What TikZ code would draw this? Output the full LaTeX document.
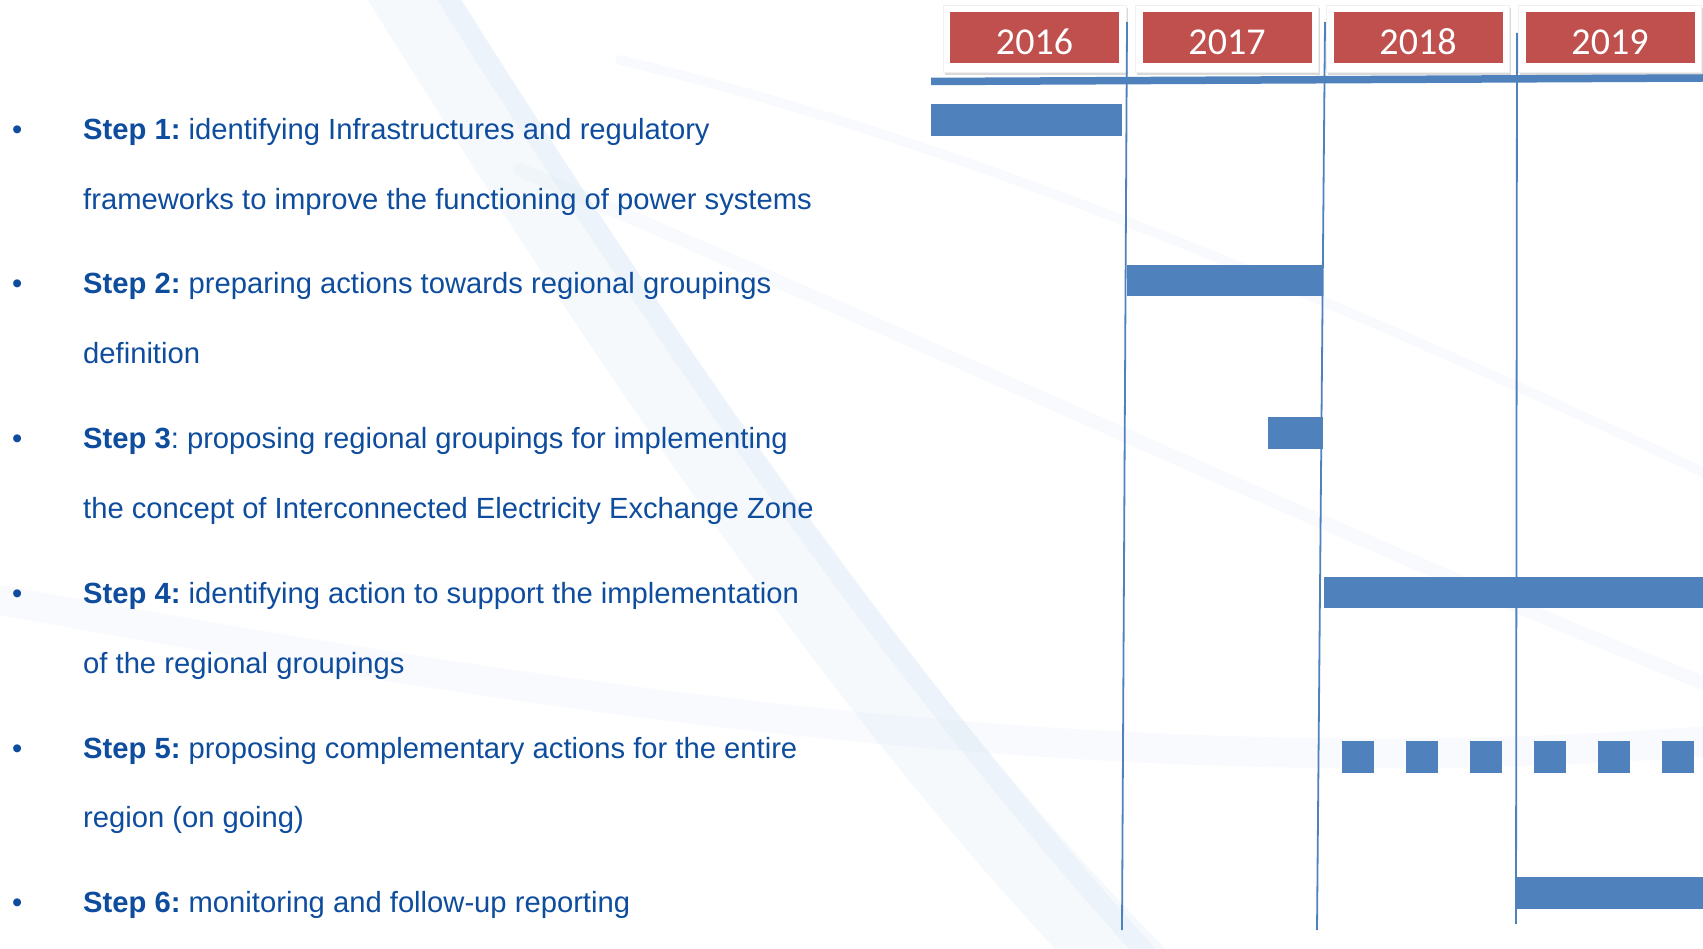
\documentclass[tikz,border=0pt]{standalone}
\usepackage{fontspec}
\setmainfont{Liberation Sans}
\newfontfamily\yearfont{Carlito}
\usetikzlibrary{shadows}
\definecolor{txtblue}{RGB}{14,76,157}
\definecolor{barblue}{RGB}{79,129,189}
\definecolor{yearred}{RGB}{192,80,77}
\definecolor{swooshblue}{RGB}{205,222,240}
\begin{document}
\frenchspacing
\begin{tikzpicture}[x=1pt,y=-1pt,
 yearbox/.style={fill=yearred, minimum width=169pt, minimum height=51pt, inner sep=0pt, text height=33pt, text depth=0pt, text=white, font=\yearfont\fontsize{38}{38}\selectfont},
 framebox/.style={fill=white, draw=black!6, line width=0.5pt, minimum width=183pt, minimum height=67pt, inner sep=0pt, drop shadow={shadow xshift=1.5pt, shadow yshift=-3.5pt, opacity=0.3}},
 bar/.style={fill=barblue, inner sep=0pt, draw=none, anchor=north west},
 vline/.style={draw=barblue, line width=1.8pt},
 steptext/.style={text=txtblue, anchor=base west, inner sep=0pt, font=\fontsize{29.2}{34}\selectfont},
 swoosh/.style={draw=swooshblue, line cap=round},
]
\useasboundingbox (0,0) rectangle (1703,949);
% faint background swooshes
\draw[swoosh, line width=80pt, opacity=0.18] (390,-40) .. controls (620,330) and (880,720) .. (1150,990);
\draw[swoosh, line width=20pt, opacity=0.22] (430,-30) .. controls (650,320) and (910,700) .. (1180,990);
\draw[swoosh, line width=14pt, opacity=0.15] (520,170) .. controls (900,330) and (1300,520) .. (1720,690);
\draw[swoosh, line width=30pt, opacity=0.14] (0,600) .. controls (500,690) and (1100,790) .. (1720,740);
\draw[swoosh, line width=10pt, opacity=0.14] (620,60) .. controls (1000,150) and (1400,330) .. (1720,480);

% year headers
\node[framebox] (f16) at (1034.5,38.5) {};
\node[framebox] (f17) at (1227,38.5) {};
\node[framebox] (f18) at (1418,38.5) {};
\node[framebox] (f19) at (1610,38.5) {};
\node[yearbox] (y16) at (1034.5,38) {2016};
\node[yearbox] (y17) at (1227,38) {2017};
\node[yearbox] (y18) at (1418,38) {2018};
\node[yearbox] (y19) at (1610,38) {2019};

% timeline axis
\coordinate (axl) at (931,81.5);
\coordinate (axr) at (1703,78);
\draw[draw=barblue, line width=7.5pt] (axl) -- (axr);

% vertical year separators
\coordinate (v1t) at (1127,22);
\coordinate (v1b) at (1122,930);
\coordinate (v2t) at (1325,22);
\coordinate (v2b) at (1317,930);
\coordinate (v3t) at (1517,33);
\coordinate (v3b) at (1516,924);
\draw[vline] (v1t) -- (v1b);
\draw[vline] (v2t) -- (v2b);
\draw[vline] (v3t) -- (v3b);

% bars
\node[bar, minimum width=191pt, minimum height=32pt] (b1) at (931,104) {};
\node[bar, minimum width=195pt, minimum height=31pt] (b2) at (1127,265) {};
\node[bar, minimum width=55pt, minimum height=32pt] (b3) at (1268,417) {};
\node[bar, minimum width=379pt, minimum height=31pt] (b4) at (1324,577) {};
\node[bar, minimum width=32pt, minimum height=32pt] (q1) at (1342,741) {};
\node[bar, minimum width=32pt, minimum height=32pt] (q2) at (1406,741) {};
\node[bar, minimum width=32pt, minimum height=32pt] (q3) at (1470,741) {};
\node[bar, minimum width=32pt, minimum height=32pt] (q4) at (1534,741) {};
\node[bar, minimum width=32pt, minimum height=32pt] (q5) at (1598,741) {};
\node[bar, minimum width=32pt, minimum height=32pt] (q6) at (1662,741) {};
\node[bar, minimum width=186pt, minimum height=32pt] (b6) at (1517,877) {};

% steps text
\node[steptext] (d1) at (12,140) {\textbullet};
\node[steptext] (s1a) at (83,140) {\textbf{Step 1:} identifying Infrastructures and regulatory};
\node[steptext] (s1b) at (83,209.5) {frameworks to improve the functioning of power systems};
\node[steptext] (d2) at (12,294) {\textbullet};
\node[steptext] (s2a) at (83,294) {\textbf{Step 2:} preparing actions towards regional groupings};
\node[steptext] (s2b) at (83,363.5) {definition};
\node[steptext] (d3) at (12,449) {\textbullet};
\node[steptext] (s3a) at (83,449) {\textbf{Step 3}: proposing regional groupings for implementing};
\node[steptext] (s3b) at (83,518) {the concept of Interconnected Electricity Exchange Zone};
\node[steptext] (d4) at (12,603.5) {\textbullet};
\node[steptext] (s4a) at (83,603.5) {\textbf{Step 4:} identifying action to support the implementation};
\node[steptext] (s4b) at (83,673) {of the regional groupings};
\node[steptext] (d5) at (12,758) {\textbullet};
\node[steptext] (s5a) at (83,758) {\textbf{Step 5:} proposing complementary actions for the entire};
\node[steptext] (s5b) at (83,827.5) {region (on going)};
\node[steptext] (d6) at (12,912.5) {\textbullet};
\node[steptext] (s6a) at (83,912.5) {\textbf{Step 6:} monitoring and follow-up reporting};
\end{tikzpicture}
\end{document}
